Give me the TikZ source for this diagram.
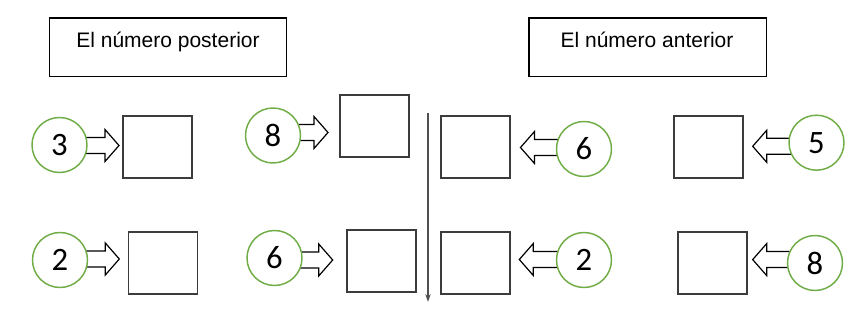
\documentclass[tikz,border=0pt]{standalone}
\usepackage{fontspec}
\setmainfont{Liberation Sans}
\newfontfamily\digitfont{Carlito}
\usetikzlibrary{calc,backgrounds,arrows.meta}
\definecolor{cgreen}{RGB}{112,173,71}
\definecolor{boxgray}{RGB}{60,60,60}
\definecolor{linegray}{RGB}{80,80,80}
\newcommand\arrR[2]{\draw[blk] let \p1=(#1.center), \p2=(#2) in
  (\x1,\y2+6pt) -- (\x2-10.5pt,\y2+6pt) -- (\x2-10.5pt,\y2+12pt) -- (\x2,\y2)
  -- (\x2-10.5pt,\y2-12pt) -- (\x2-10.5pt,\y2-6pt) -- (\x1,\y2-6pt) -- cycle;}
\newcommand\arrL[2]{\draw[blk] let \p1=(#1.center), \p2=(#2) in
  (\x1,\y2+6pt) -- (\x2+10.5pt,\y2+6pt) -- (\x2+10.5pt,\y2+12pt) -- (\x2,\y2)
  -- (\x2+10.5pt,\y2-12pt) -- (\x2+10.5pt,\y2-6pt) -- (\x1,\y2-6pt) -- cycle;}
\newcommand\dg[1]{\raisebox{-1.6pt}{#1}}
\begin{document}
\begin{tikzpicture}[x=0.75pt,y=-0.75pt,
  hdr/.style={draw=black,line width=1pt,minimum width=178pt,minimum height=44pt,inner sep=0pt},
  hdrtxt/.style={anchor=base,inner sep=0pt,font=\fontsize{15.75}{18}\selectfont},
  circ/.style={circle,draw=cgreen,fill=white,line width=1.1pt,minimum size=41.25pt,inner sep=0pt,
    font=\digitfont\fontsize{24.5}{28}\selectfont},
  box/.style={draw=boxgray,line width=1.4pt,minimum width=51.75pt,minimum height=46.5pt,inner sep=0pt},
  blk/.style={draw=black,fill=white,line width=0.9pt,line join=miter}]
\useasboundingbox (0,0) rectangle (867,316);
% headers
\node[hdr] (h1) at (168,47.5) {};
\node[hdrtxt] (h1t) at (168,47.3) {El número posterior};
\node[hdr] (h2) at (647.5,47.5) {};
\node[hdrtxt] (h2t) at (647,47.3) {El número anterior};
% boxes
\node[box] (b1) at (157.5,147) {};
\node[box] (b2) at (374.5,126) {};
\node[box] (b3) at (475.5,147) {};
\node[box] (b4) at (708.5,147) {};
\node[box] (b5) at (163,263) {};
\node[box] (b6) at (381.5,261) {};
\node[box] (b7) at (475.5,263) {};
\node[box] (b8) at (712.5,263) {};
% circles
\node[circ] (c1) at (59.5,145) {\dg{3}};
\node[circ] (c2) at (273,135.5) {\dg{8}};
\node[circ] (c3) at (584,149) {\dg{6}};
\node[circ] (c4) at (816.5,142.7) {\dg{5}};
\node[circ] (c5) at (60,260) {\dg{2}};
\node[circ] (c6) at (274.5,258) {\dg{6}};
\node[circ] (c7) at (584,260) {\dg{2}};
\node[circ] (c8) at (815,263) {\dg{8}};
% arrow tips
\coordinate (t1) at (119,145.5);
\coordinate (t2) at (328,132.5);
\coordinate (t3) at (520.5,147.5);
\coordinate (t4) at (752.7,146.3);
\coordinate (t5) at (119.3,259);
\coordinate (t6) at (332.7,260);
\coordinate (t7) at (519.3,259.5);
\coordinate (t8) at (752.7,259.6);
\begin{scope}[on background layer]
\arrR{c1}{t1}
\arrR{c2}{t2}
\arrL{c3}{t3}
\arrL{c4}{t4}
\arrR{c5}{t5}
\arrR{c6}{t6}
\arrL{c7}{t7}
\arrL{c8}{t8}
\end{scope}
% vertical arrow
\coordinate (vtop) at (428,113);
\coordinate (vbot) at (428,302);
\draw[linegray,line width=1pt,-{Stealth[length=6pt,width=4pt]}] (vtop) -- (vbot);
\end{tikzpicture}
\end{document}
